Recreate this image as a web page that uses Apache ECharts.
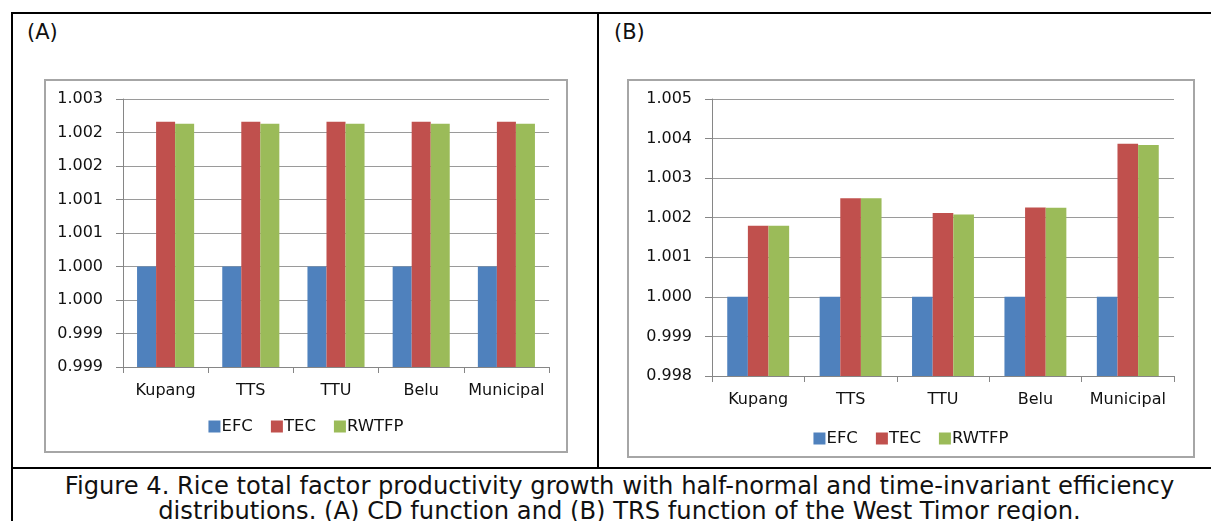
<!DOCTYPE html>
<html>
<head>
<meta charset="utf-8">
<script src="https://cdn.jsdelivr.net/npm/echarts@6/dist/echarts.min.js"></script>
<style>
  body { margin: 0; width: 1211px; height: 521px; background: #fff; overflow: hidden; position: relative; font-family: "DejaVu Sans", Verdana, sans-serif; }
  .ln { position: absolute; background: #000; }
  .tag { position: absolute; font-size: 21px; color: #111; }
  .box { position: absolute; border: 2px solid #a6a6a6; box-sizing: border-box; background: #fff; }
  #caption { position: absolute; left: 14px; width: 1211px; top: 474px; text-align: center; font-size: 24.2px; line-height: 25px; color: #111; white-space: nowrap; }
</style>
</head>
<body>
<div class="ln" style="left:11px;top:12px;width:1200px;height:2px"></div>
<div class="ln" style="left:11px;top:12px;width:2px;height:509px"></div>
<div class="ln" style="left:597px;top:12px;width:2px;height:456px"></div>
<div class="ln" style="left:11px;top:467px;width:1200px;height:2px"></div>
<div class="tag" style="left:27px;top:20px">(A)</div>
<div class="tag" style="left:614px;top:20px">(B)</div>
<div class="box" id="chartA" style="left:44px;top:79px;width:524px;height:374px"></div>
<div class="box" id="chartB" style="left:627px;top:79px;width:568px;height:379px"></div>
<div id="caption">Figure 4. Rice total factor productivity growth with half-normal and time-invariant efficiency<br>distributions. (A) CD function and (B) TRS function of the West Timor region.</div>
<script>
const regions = ['Kupang', 'TTS', 'TTU', 'Belu', 'Municipal'];
const seriesNames = ['EFC', 'TEC', 'RWTFP'];
const colors = ['#4F81BD', '#C0504D', '#9BBB59'];

// (A) CD function
const efcA = [1.000, 1.000, 1.000, 1.000, 1.000];
const tecA = [1.00216, 1.00216, 1.00216, 1.00216, 1.00216];
const rwtfpA = [1.00213, 1.00213, 1.00213, 1.00213, 1.00213];

// (B) TRS function
const efcB = [1.000, 1.000, 1.000, 1.000, 1.000];
const tecB = [1.0018, 1.00249, 1.00212, 1.00226, 1.00387];
const rwtfpB = [1.0018, 1.00249, 1.00208, 1.00225, 1.00384];

function fmt3(v) {
  // Excel style rounding to 3 decimals
  return (Math.round(Math.round(v * 1e4) / 10) / 1000).toFixed(3);
}

function makeOption(values, yMin, yMax, step, grid, legendTop) {
  return {
    animation: false,
    color: colors,
    textStyle: { fontFamily: 'DejaVu Sans' },
    grid: grid,
    legend: {
      top: legendTop,
      left: 'center',
      itemWidth: 12,
      itemHeight: 12,
      itemGap: 18,
      icon: 'rect',
      textStyle: { fontSize: 16.5, color: '#111', padding: [0, 0, 0, -4] },
      data: seriesNames
    },
    xAxis: {
      type: 'category',
      data: regions,
      axisLine: { lineStyle: { color: '#868686', width: 1 } },
      axisTick: { show: true, length: 6, lineStyle: { color: '#868686' } },
      axisLabel: { fontSize: 16, color: '#111', margin: 16, interval: 0 }
    },
    yAxis: {
      type: 'value',
      min: yMin,
      max: yMax,
      interval: step,
      axisLine: { show: true, lineStyle: { color: '#868686', width: 1 } },
      axisTick: { show: true, length: 7, lineStyle: { color: '#868686' } },
      axisLabel: { fontSize: 16, color: '#111', margin: 20, formatter: fmt3 },
      splitLine: { lineStyle: { color: '#9a9a9a', width: 1 } }
    },
    series: values.map((d, i) => ({
      name: seriesNames[i],
      type: 'bar',
      data: d,
      barGap: '0%',
      barCategoryGap: '33%'
    }))
  };
}

const chartA = echarts.init(document.getElementById('chartA'));
chartA.setOption(makeOption([efcA, tecA, rwtfpA], 0.9985, 1.0025, 0.0005,
  { left: 77, top: 18, right: 17, bottom: 84 }, 332));

const chartB = echarts.init(document.getElementById('chartB'));
chartB.setOption(makeOption([efcB, tecB, rwtfpB], 0.998, 1.005, 0.001,
  { left: 83, top: 18, right: 19, bottom: 80 }, 344));
</script>
</body>
</html>
